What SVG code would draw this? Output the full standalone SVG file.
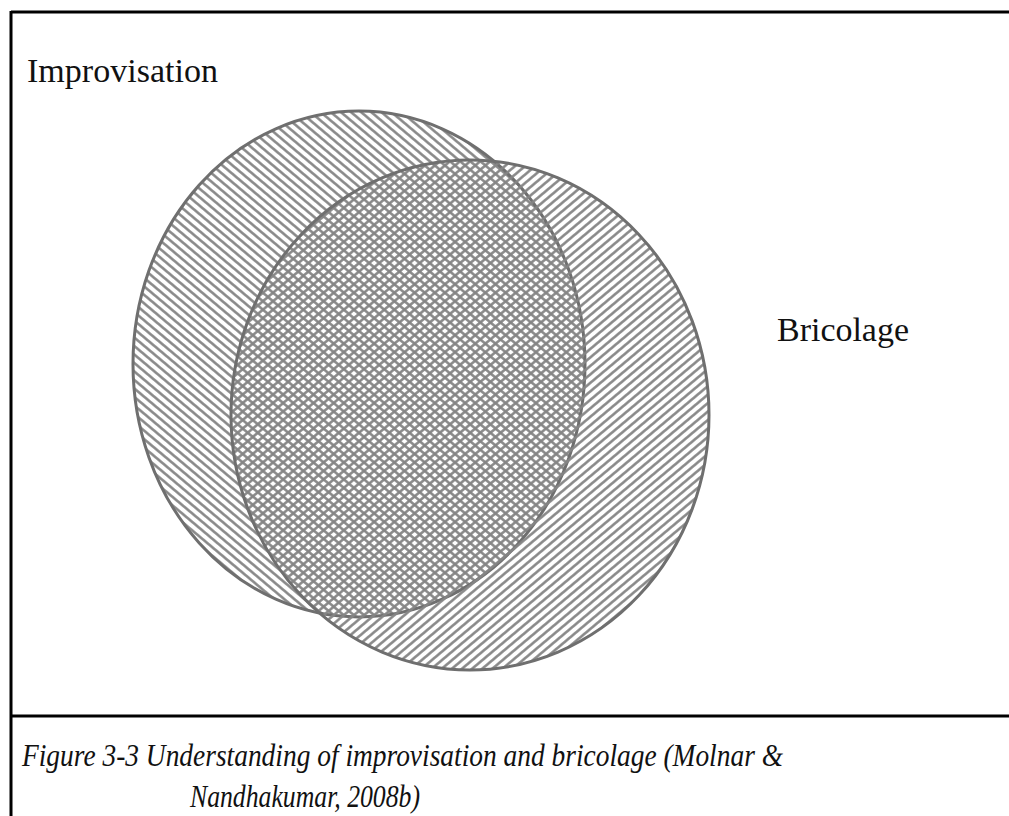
<svg xmlns="http://www.w3.org/2000/svg" width="1009" height="816" viewBox="0 0 1009 816">
  <style>
    .frame { stroke: #000; stroke-width: 3; fill: none; }
    .label { font-family: "Liberation Serif", "Times New Roman", serif; font-size: 34px; fill: #111; }
    .caption { font-family: "Liberation Serif", "Times New Roman", serif; font-style: italic; font-size: 32px; fill: #111; }
    .set-outline { stroke: #6f6f6f; stroke-width: 3; }
  </style>
  <defs>
    <!-- diagonal hatch falling to the right -->
    <pattern id="hatch-down" patternUnits="userSpaceOnUse" width="6.5" height="6.5" patternTransform="rotate(40)">
      <line x1="0" y1="3.25" x2="6.5" y2="3.25" stroke="#858585" stroke-width="2.5"/>
    </pattern>
    <!-- diagonal hatch rising to the right -->
    <pattern id="hatch-up" patternUnits="userSpaceOnUse" width="6.5" height="6.5" patternTransform="rotate(-40)">
      <line x1="0" y1="3.25" x2="6.5" y2="3.25" stroke="#858585" stroke-width="2.5"/>
    </pattern>
  </defs>

  <rect x="0" y="0" width="1009" height="816" fill="#fff"/>

  <!-- frame -->
  <g id="frame">
    <line class="frame" x1="11" y1="12" x2="1009" y2="12"/>
    <line class="frame" x1="11" y1="11" x2="11" y2="816"/>
    <line class="frame" x1="11" y1="716" x2="1009" y2="716"/>
  </g>

  <g id="connectors"></g>

  <g id="improvisation">
    <ellipse class="set-outline" cx="359" cy="364" rx="226" ry="253" fill="url(#hatch-down)"/>
    <text class="label" x="27" y="82" textLength="191" lengthAdjust="spacingAndGlyphs">Improvisation</text>
  </g>

  <g id="bricolage">
    <ellipse class="set-outline" cx="470" cy="415" rx="239" ry="255" fill="url(#hatch-up)"/>
    <text class="label" x="777" y="341" textLength="132" lengthAdjust="spacingAndGlyphs">Bricolage</text>
  </g>

  <g id="caption">
    <text class="caption" x="22" y="766" textLength="761" lengthAdjust="spacingAndGlyphs">Figure 3-3 Understanding of improvisation and bricolage (Molnar &amp;</text>
    <text class="caption" x="190" y="807" textLength="230" lengthAdjust="spacingAndGlyphs">Nandhakumar, 2008b)</text>
  </g>
</svg>
